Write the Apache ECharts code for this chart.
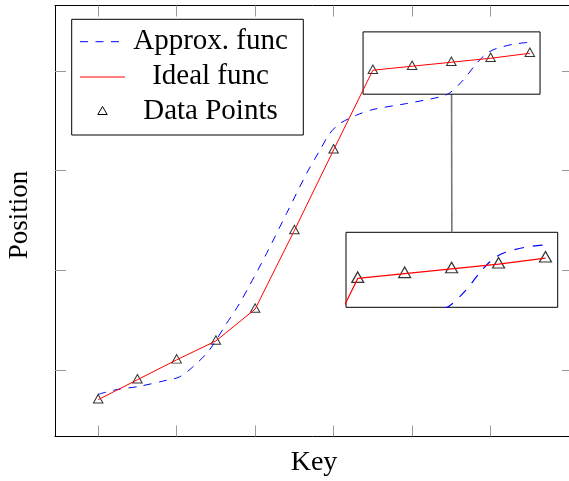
<!DOCTYPE html>
<html>
  <head>
    <title></title>
    <meta charset="UTF-8" />
    <script src="https://cdn.jsdelivr.net/npm/echarts@6/dist/echarts.min.js"></script>
  </head>
  <body style="margin:0">
    <div id="main"></div>
    <script>
      const width = 569;
      const height = 481;
      const main = document.getElementById('main');
      main.style.width = `${width}px`;
      main.style.height = `${height}px`;

      // data
      const keys = [0, 1, 2, 3, 4, 5, 6, 7, 8, 9, 10, 11];
      const idealY = [0.70, 0.90, 1.10, 1.29, 1.61, 2.40, 3.21, 4.01, 4.05, 4.09, 4.13, 4.18];
      const approxX = [0, 0.46, 1.05, 1.73, 2.07, 2.41, 2.76, 2.92, 3.27, 3.6, 3.86, 4.29, 4.8, 5.31,
        5.65, 5.9, 6.16, 6.58, 7.0, 7.86, 8.71, 8.96, 9.3, 9.64, 9.9, 10.15, 10.58, 11.0];
      const approxY = [0.754, 0.8, 0.834, 0.894, 0.928, 1.028, 1.163, 1.246, 1.464, 1.665, 1.849, 2.168,
        2.57, 2.972, 3.206, 3.374, 3.474, 3.558, 3.615, 3.675, 3.742, 3.782, 3.91, 4.077, 4.178, 4.228,
        4.271, 4.291];
      const xTicks = [0, 2, 4, 6, 8, 10];
      const yTicks = [1, 2, 3, 4];
      const zoomX = [6.75, 11.26];
      const zoomY = [3.769, 4.395];

      const ideal = keys.map((k, i) => [k, idealY[i]]);
      const approx = approxX.map((x, i) => [x, approxY[i]]);

      const font = 'Liberation Serif, Times New Roman, serif';
      const tick = { show: true, inside: true, length: 11, lineStyle: { color: '#999', width: 1 } };

      const mainX = (pos) => ({
        type: 'value', gridIndex: 0, position: pos, min: -1.1, max: 12.1,
        axisLine: { show: true, onZero: false, lineStyle: { color: '#000', width: 1 } },
        axisTick: { ...tick, customValues: xTicks },
        axisLabel: { show: false },
        splitLine: { show: false },
      });
      const mainY = (pos) => ({
        type: 'value', gridIndex: 0, position: pos, min: 0.33, max: 4.66,
        axisLine: { show: true, onZero: false, lineStyle: { color: '#000', width: 1 } },
        axisTick: { ...tick, customValues: yTicks },
        axisLabel: { show: false },
        splitLine: { show: false },
      });

      const myChart = echarts.init(main);
      const option = {
        animation: false,
        backgroundColor: '#fff',
        grid: [
          { left: 55, top: 5.5, width: 518, height: 431, outerBoundsMode: 'none' },
          {
            left: 346, top: 232.3, width: 211.7, height: 75, outerBoundsMode: 'none',
            show: true, backgroundColor: '#fff', borderColor: '#000', borderWidth: 1,
          },
        ],
        xAxis: [
          mainX('bottom'),
          mainX('top'),
          { type: 'value', gridIndex: 1, min: zoomX[0], max: zoomX[1], show: false, splitLine: { show: false } },
        ],
        yAxis: [
          mainY('left'),
          mainY('right'),
          { type: 'value', gridIndex: 1, min: zoomY[0], max: zoomY[1], show: false, splitLine: { show: false } },
        ],
        series: [
          {
            name: 'Approx. func', type: 'line', xAxisIndex: 0, yAxisIndex: 0,
            data: approx, smooth: 0.3, showSymbol: false,
            lineStyle: { color: '#00f', width: 1, type: [8, 7.5] },
          },
          {
            name: 'Ideal func', type: 'line', xAxisIndex: 0, yAxisIndex: 0,
            data: ideal, showSymbol: false,
            lineStyle: { color: '#f00', width: 1 },
            markArea: {
              silent: true,
              itemStyle: { color: 'rgba(0,0,0,0)', borderColor: '#000', borderWidth: 1 },
              data: [[{ coord: [zoomX[0], zoomY[1]] }, { coord: [zoomX[1], zoomY[0]] }]],
            },
          },
          {
            name: 'Data Points', type: 'scatter', xAxisIndex: 0, yAxisIndex: 0,
            data: ideal, symbol: 'triangle', symbolSize: [9.5, 8.5], symbolOffset: [0, -1],
            itemStyle: { color: 'rgba(255,255,255,0)', borderColor: '#000', borderWidth: 1 },
          },
          {
            type: 'line', xAxisIndex: 2, yAxisIndex: 2,
            data: approx, smooth: 0.3, showSymbol: false, clip: true,
            lineStyle: { color: '#00f', width: 1.2, type: [9.6, 9] },
          },
          {
            type: 'line', xAxisIndex: 2, yAxisIndex: 2,
            data: ideal, showSymbol: false, clip: true,
            lineStyle: { color: '#f00', width: 1.2 },
          },
          {
            type: 'scatter', xAxisIndex: 2, yAxisIndex: 2, clip: true,
            data: ideal, symbol: 'triangle', symbolSize: [12, 10.5], symbolOffset: [0, -1.3],
            itemStyle: { color: 'rgba(255,255,255,0)', borderColor: '#000', borderWidth: 1.2 },
          },
        ],
      };
      myChart.setOption(option);

      // connector between the zoom window and the inset
      const midX = (zoomX[0] + zoomX[1]) / 2;
      const p1 = myChart.convertToPixel({ xAxisIndex: 0, yAxisIndex: 0 }, [midX, zoomY[0]]);
      const p2 = myChart.convertToPixel({ xAxisIndex: 2, yAxisIndex: 2 }, [midX, zoomY[1]]);

      myChart.setOption({
        graphic: [
          {
            type: 'line', z: 0,
            shape: { x1: p1[0], y1: p1[1], x2: p2[0], y2: p2[1] },
            style: { stroke: '#777', lineWidth: 1.6 },
          },
          {
            type: 'text', x: 314, y: 463,
            style: { text: 'Key', font: `28px ${font}`, fill: '#000', align: 'center', verticalAlign: 'middle' },
          },
          {
            type: 'text', x: 20, y: 215, rotation: Math.PI / 2,
            style: { text: 'Position', font: `27px ${font}`, fill: '#000', align: 'center', verticalAlign: 'middle' },
          },
          // legend
          {
            type: 'group', z: 100,
            children: [
              {
                type: 'rect', shape: { x: 71.7, y: 19.3, width: 231.6, height: 115.7 },
                style: { fill: '#fff', stroke: '#000', lineWidth: 1 },
              },
              {
                type: 'line', shape: { x1: 80, y1: 41.7, x2: 122, y2: 41.7 },
                style: { stroke: '#00f', lineWidth: 1, lineDash: [8, 7.5] },
              },
              {
                type: 'line', shape: { x1: 80, y1: 77, x2: 125, y2: 77 },
                style: { stroke: '#f00', lineWidth: 1 },
              },
              {
                type: 'polygon', shape: { points: [[102.5, 106.5], [107.2, 114.5], [97.8, 114.5]] },
                style: { fill: 'none', stroke: '#000', lineWidth: 1 },
              },
              {
                type: 'text', x: 210.5, y: 41.7,
                style: { text: 'Approx. func', font: `29px ${font}`, fill: '#000', align: 'center', verticalAlign: 'middle' },
              },
              {
                type: 'text', x: 210.5, y: 76.7,
                style: { text: 'Ideal func', font: `29px ${font}`, fill: '#000', align: 'center', verticalAlign: 'middle' },
              },
              {
                type: 'text', x: 210.5, y: 111,
                style: { text: 'Data Points', font: `29px ${font}`, fill: '#000', align: 'center', verticalAlign: 'middle' },
              },
            ],
          },
        ],
      });
    </script>
  </body>
</html>
